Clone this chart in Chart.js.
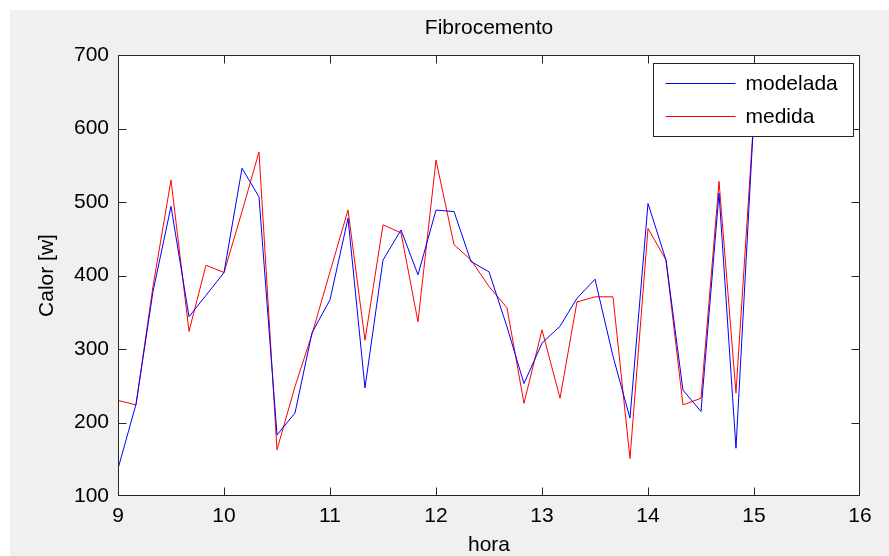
<!DOCTYPE html>
<html>
<head>
<meta charset="utf-8">
<title>Fibrocemento</title>
<script src="https://cdn.jsdelivr.net/npm/chart.js@4"></script>
<style>
  html, body { margin: 0; padding: 0; background: #ffffff; overflow: hidden; }
  #wrap { width: 889px; height: 556px; position: relative; }
</style>
</head>
<body>
<div id="wrap"><canvas id="c" width="889" height="556"></canvas></div>
<script>
// Hour of day, sampled every 10 minutes
const horas = [
  9.00, 9.17, 9.33, 9.50, 9.67, 9.83,
  10.00, 10.17, 10.33, 10.50, 10.67, 10.83,
  11.00, 11.17, 11.33, 11.50, 11.67, 11.83,
  12.00, 12.17, 12.33, 12.50, 12.67, 12.83,
  13.00, 13.17, 13.33, 13.50, 13.67, 13.83,
  14.00, 14.17, 14.33, 14.50, 14.67, 14.83,
  15.00
];

// Heat [w], model output
const modelada = [
  137, 225, 378, 494, 344, 373,
  404, 546, 507, 183, 213, 322,
  367, 478, 247, 421, 462, 401,
  489, 487, 419, 405, 330, 253,
  308, 331, 369, 395, 290, 206,
  498, 421, 244, 215, 512, 165,
  620
];

// Heat [w], measured
const medida = [
  230, 224, 385, 530, 324, 414,
  404, 487, 568, 163, 249, 320,
  405, 489, 312, 469, 458, 337,
  557, 442, 421, 385, 356, 226,
  326, 233, 364, 371, 371, 151,
  464, 421, 224, 233, 528, 240,
  620
];

const ticksX = [9, 10, 11, 12, 13, 14, 15, 16];
const ticksY = [100, 200, 300, 400, 500, 600, 700];
const tituloGrafico = 'Fibrocemento';

const FONT = 'Liberation Sans, Arial, Helvetica, sans-serif';
const FIG_BG = '#f0f0f0';
const AXIS_COLOR = '#262626';

const toPoints = ys => horas.map((h, i) => ({ x: h, y: ys[i] }));

// Figure background: grey window with a white plot region
const backgroundPlugin = {
  id: 'figureBackground',
  beforeDraw(chart) {
    const { ctx, width, height, chartArea: a } = chart;
    ctx.save();
    ctx.fillStyle = '#ffffff';
    ctx.fillRect(0, 0, width, height);
    ctx.fillStyle = FIG_BG;
    ctx.fillRect(10, 10, width - 10, height - 10);
    ctx.fillStyle = '#ffffff';
    ctx.fillRect(a.left, a.top, a.right - a.left, a.bottom - a.top);
    ctx.restore();
  }
};

// Title centred over the axes
const axesTitlePlugin = {
  id: 'axesTitle',
  afterDraw(chart) {
    const { ctx, chartArea: a } = chart;
    ctx.save();
    ctx.font = '21px ' + FONT;
    ctx.fillStyle = '#000000';
    ctx.textAlign = 'center';
    ctx.textBaseline = 'middle';
    ctx.fillText(tituloGrafico, (a.left + a.right) / 2, a.top - 27);
    ctx.restore();
  }
};

// Boxed axes with inward tick marks on all four sides
const boxPlugin = {
  id: 'axesBox',
  afterDatasetsDraw(chart) {
    const { ctx, chartArea: a, scales } = chart;
    const len = 8;
    const L = Math.round(a.left) + 0.5, R = Math.round(a.right) - 0.5;
    const T = Math.round(a.top) + 0.5, B = Math.round(a.bottom) - 0.5;
    const clamp = (v, lo, hi) => Math.min(Math.max(v, lo), hi);
    ctx.save();
    ctx.strokeStyle = AXIS_COLOR;
    ctx.lineWidth = 1;
    ctx.beginPath();
    scales.x.ticks.forEach(t => {
      const px = clamp(Math.round(scales.x.getPixelForValue(t.value)) + 0.5, L, R);
      ctx.moveTo(px, B); ctx.lineTo(px, B - len);
      ctx.moveTo(px, T); ctx.lineTo(px, T + len);
    });
    scales.y.ticks.forEach(t => {
      const py = clamp(Math.round(scales.y.getPixelForValue(t.value)) + 0.5, T, B);
      ctx.moveTo(L, py); ctx.lineTo(L + len, py);
      ctx.moveTo(R, py); ctx.lineTo(R - len, py);
    });
    ctx.stroke();
    ctx.strokeRect(L, T, R - L, B - T);
    ctx.restore();
  }
};

// Legend box in the upper right corner of the axes
const legendPlugin = {
  id: 'axesLegend',
  afterDatasetsDraw(chart) {
    const { ctx, chartArea: a } = chart;
    const bx = Math.round(a.right) - 206.5, by = Math.round(a.top) + 8.5;
    const bw = 200, bh = 73;
    ctx.save();
    ctx.fillStyle = '#ffffff';
    ctx.fillRect(bx, by, bw, bh);
    ctx.strokeStyle = AXIS_COLOR;
    ctx.lineWidth = 1;
    ctx.strokeRect(bx, by, bw, bh);
    ctx.font = '21px ' + FONT;
    ctx.textBaseline = 'middle';
    ctx.textAlign = 'left';
    chart.data.datasets.forEach((ds, i) => {
      const y = Math.round(by + 19 + i * 33) + 0.5;
      ctx.strokeStyle = ds.borderColor;
      ctx.beginPath();
      ctx.moveTo(bx + 12, y);
      ctx.lineTo(bx + 82, y);
      ctx.stroke();
      ctx.fillStyle = '#000000';
      ctx.fillText(ds.label, bx + 92, y + 1);
    });
    ctx.restore();
  }
};

new Chart(document.getElementById('c'), {
  type: 'line',
  data: {
    datasets: [
      { label: 'modelada', data: toPoints(modelada), borderColor: '#0000ff', borderWidth: 1, pointRadius: 0, tension: 0, fill: false },
      { label: 'medida',   data: toPoints(medida),   borderColor: '#ff0000', borderWidth: 1, pointRadius: 0, tension: 0, fill: false }
    ]
  },
  options: {
    responsive: false,
    animation: false,
    events: [],
    layout: { padding: { left: 0, right: 29, top: 55, bottom: 0 } },
    plugins: {
      legend: { display: false },
      tooltip: { enabled: false },
      title: { display: false }
    },
    scales: {
      x: {
        type: 'linear',
        min: 9, max: 16,
        afterBuildTicks: s => { s.ticks = ticksX.map(v => ({ value: v })); },
        afterFit: s => { s.height = 60; },
        grid: { display: false, drawTicks: false },
        border: { display: false },
        ticks: { color: '#000000', font: { family: FONT, size: 21 }, padding: 8, maxRotation: 0, autoSkip: false },
        title: { display: true, text: 'hora', color: '#000000', font: { family: FONT, size: 21, lineHeight: 1.0 }, padding: { top: 0, bottom: 0 } }
      },
      y: {
        type: 'linear',
        min: 100, max: 700,
        afterBuildTicks: s => { s.ticks = ticksY.map(v => ({ value: v })); },
        afterFit: s => { s.width = 118; },
        grid: { display: false, drawTicks: false },
        border: { display: false },
        ticks: { color: '#000000', font: { family: FONT, size: 21 }, padding: 9, autoSkip: false },
        title: { display: true, text: 'Calor [w]', color: '#000000', font: { family: FONT, size: 21, lineHeight: 1.2 }, padding: { top: 35, bottom: 0 } }
      }
    }
  },
  plugins: [backgroundPlugin, boxPlugin, legendPlugin, axesTitlePlugin]
});
</script>
</body>
</html>
